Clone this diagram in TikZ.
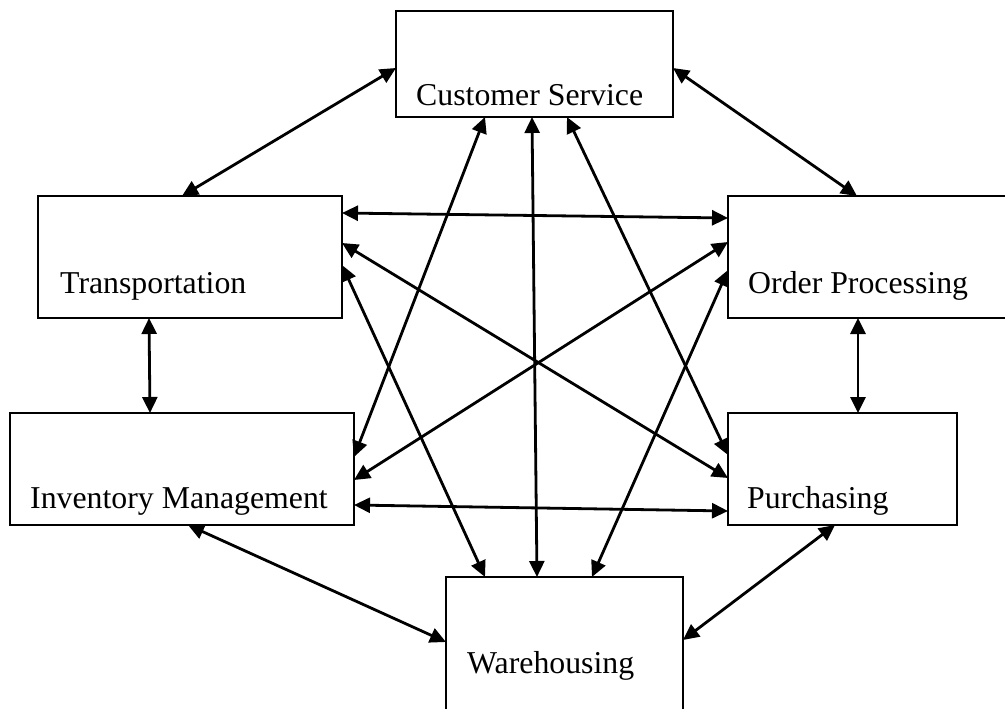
\documentclass[tikz,border=0pt]{standalone}
\usepackage{fontspec}
\setmainfont{Liberation Serif}
\usetikzlibrary{arrows.meta}
\tikzset{
  box/.style={draw=black, line width=2.1pt, rectangle, inner sep=0pt, outer sep=0pt},
  lbl/.style={anchor=base west, inner sep=0pt, font=\fontsize{31.8}{36}\selectfont},
  link/.style={line width=2.8pt, {Triangle[length=16pt,width=15pt]}-{Triangle[length=16pt,width=15pt]}}
}
\begin{document}
\begin{tikzpicture}[x=1pt,y=-1pt]
\useasboundingbox (0,0) rectangle (1005,709);
% boxes
\node[box, minimum width=277pt, minimum height=106pt] (cs) at (534.5,64) {};
\node[box, minimum width=304pt, minimum height=122pt] (tr) at (190,257) {};
\node[box, minimum width=287pt, minimum height=122pt] (op) at (871.5,257) {};
\node[box, minimum width=344pt, minimum height=112pt] (im) at (182,469) {};
\node[box, minimum width=229pt, minimum height=112pt] (pu) at (842.5,469) {};
\node[box, minimum width=237pt, minimum height=153pt] (wh) at (564.5,653.5) {};
% labels
\node[lbl] (cst) at (416,106) {Customer Service};
\node[lbl] (trt) at (60,293) {Transportation};
\node[lbl] (opt) at (748,293) {Order Processing};
\node[lbl] (imt) at (30,508) {Inventory Management};
\node[lbl] (put) at (747,508) {Purchasing};
\node[lbl] (wht) at (467,673) {Warehousing};
% connectors
\draw[link] (cs.west |- 0,68) -- (tr.north -| 182,0);
\draw[link] (cs.east |- 0,68) -- (op.north -| 857,0);
\draw[link] (tr.east |- 0,213) -- (op.west |- 0,218);
\draw[link] (tr.east |- 0,243) -- (pu.west |- 0,478);
\draw[link] (tr.east |- 0,265) -- (wh.north -| 485,0);
\draw[link] (cs.south -| 485,0) -- (im.east |- 0,457);
\draw[link] (cs.south -| 532,0) -- (wh.north -| 537,0);
\draw[link] (cs.south -| 567,0) -- (pu.west |- 0,455);
\draw[link] (op.west |- 0,242) -- (im.east |- 0,480);
\draw[link] (op.west |- 0,270) -- (wh.north -| 592,0);
\draw[link] (op.south -| 858,0) -- (pu.north -| 858,0);
\draw[link] (tr.south -| 149,0) -- (im.north -| 150,0);
\draw[link] (im.east |- 0,505) -- (pu.west |- 0,511);
\draw[link] (im.south -| 188,0) -- (wh.west |- 0,642);
\draw[link] (pu.south -| 835,0) -- (wh.east |- 0,640);
\end{tikzpicture}
\end{document}
